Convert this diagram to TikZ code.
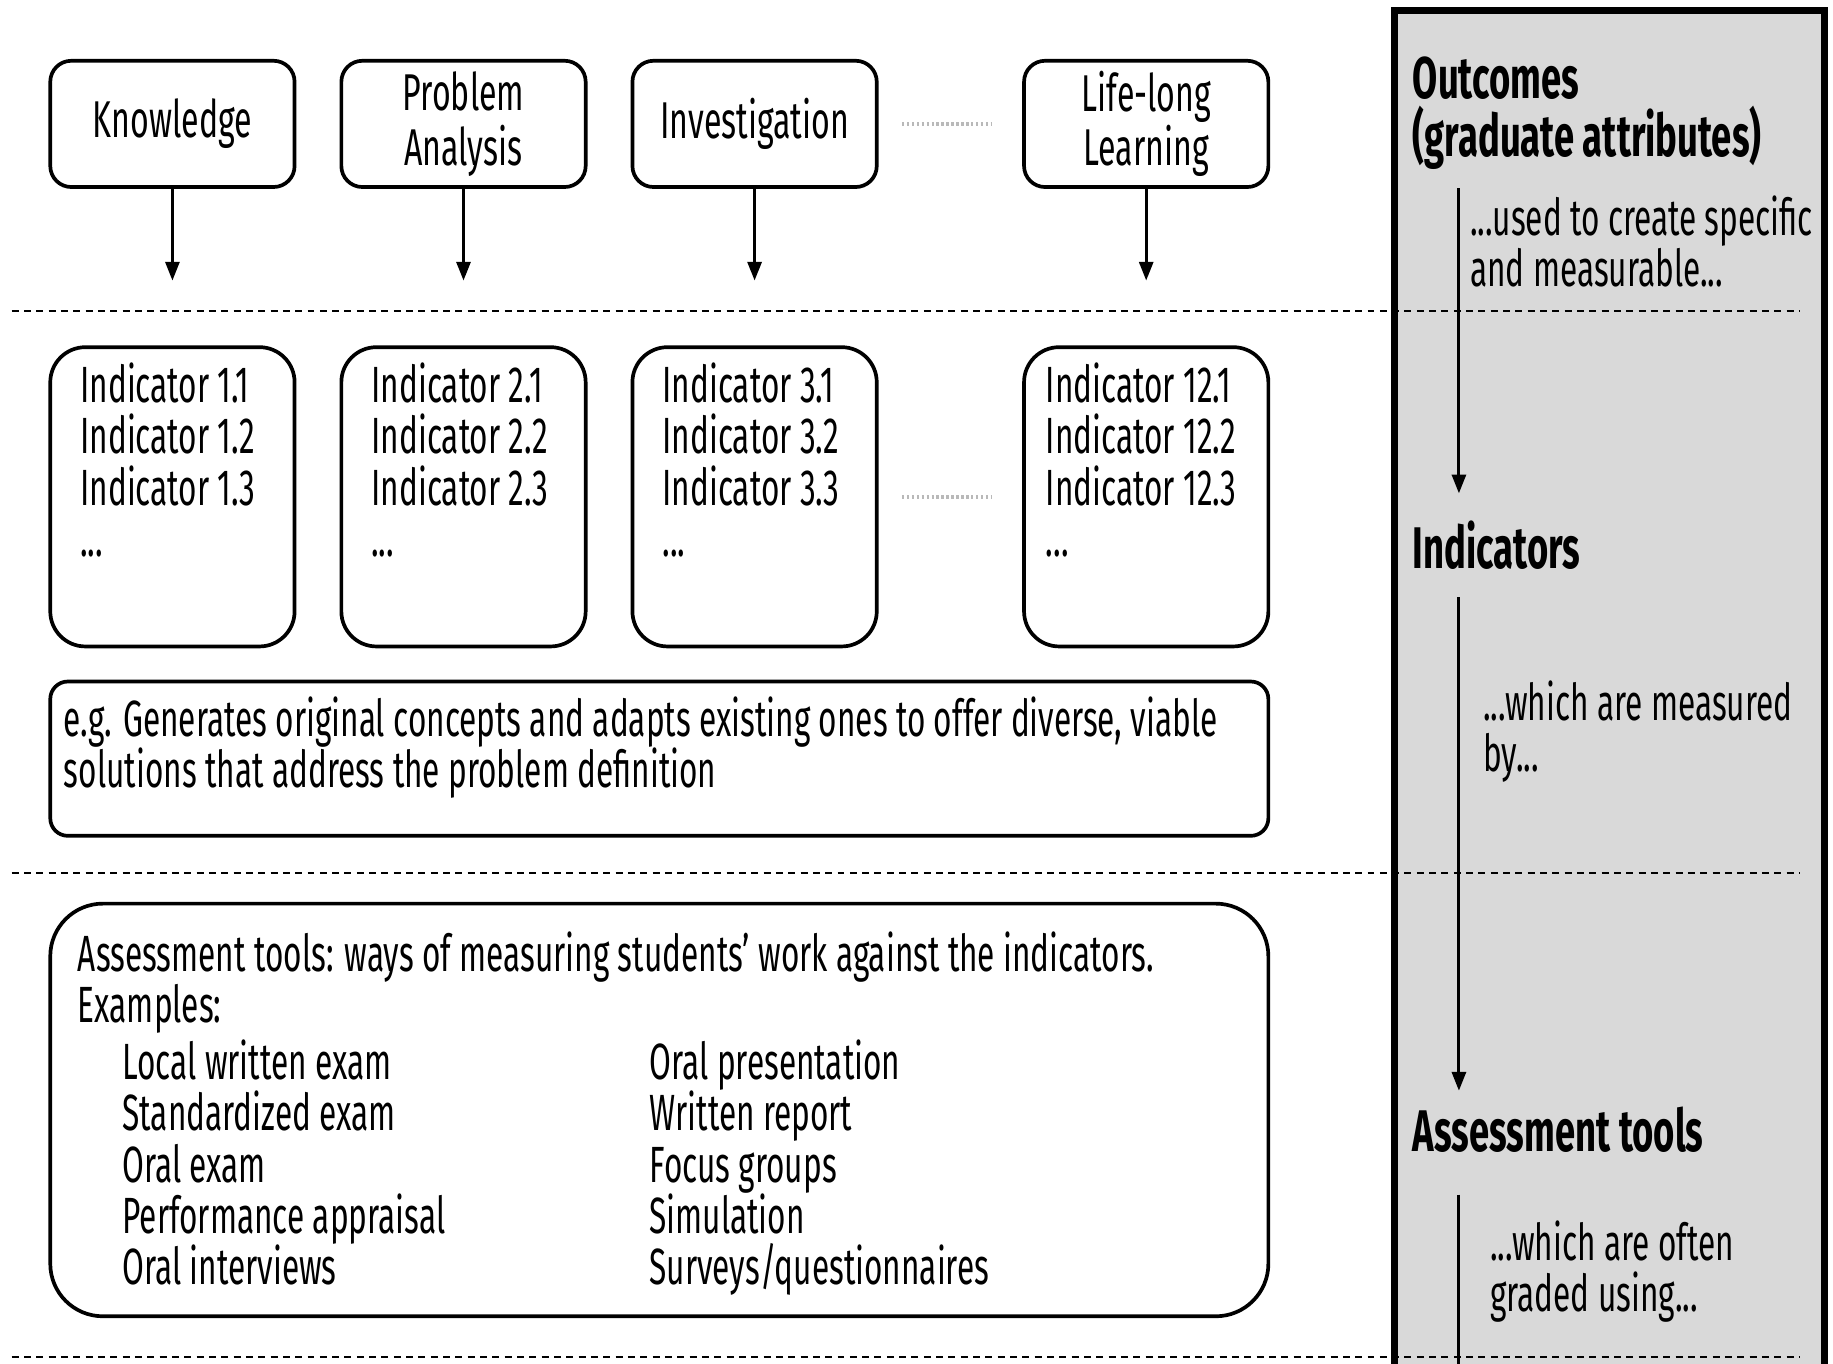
\documentclass[tikz,border=0pt]{standalone}
\usepackage{fontspec}
\setmainfont{Fira Sans}[FakeStretch=0.62]
\usetikzlibrary{arrows.meta}
\definecolor{panelgray}{HTML}{D9D9D9}
\newcommand\boxfont{\fontsize{12.4}{12.5}\selectfont}
\newcommand\headfont{\fontsize{14.3}{14.2}\selectfont\bfseries}
\tikzset{
  attrbox/.style={rectangle,rounded corners=1.8mm,draw,line width=0.9pt,
    minimum width=20.9mm,minimum height=10.8mm,align=center,inner sep=1pt,
    font=\fontsize{12.6}{13.3}\selectfont},
  indbox/.style={rectangle,rounded corners=3mm,draw,line width=0.9pt,
    minimum width=20.9mm,minimum height=25.6mm},
  widebox/.style={rectangle,draw,line width=0.9pt,minimum width=104.2mm},
  bodytext/.style={inner sep=0pt,align=left,font=\boxfont},
  headtext/.style={inner sep=0pt,align=left,font=\headfont},
  downarrow/.style={line width=0.7pt,-{Triangle[width=1.2mm,length=1.6mm]}},
  sepline/.style={line width=0.45pt,dash pattern=on 1.7pt off 1.3pt},
  gapdots/.style={line width=0.9pt,gray!55,dash pattern=on 0.6pt off 0.6pt}
}
\begin{document}
\begin{tikzpicture}[x=0.1mm,y=-0.1mm]
  \useasboundingbox (0,0) rectangle (1568,1166);

  % right side panel
  \fill[panelgray] (1193,9) rectangle (1561,1180);

  % separators
  \draw[sepline] (10,266) -- (1540,266);
  \draw[sepline] (10,747) -- (1540,747);
  \draw[sepline] (10,1161) -- (1540,1161);

  \draw[line width=1.7pt] (1193,1180) -- (1193,9) -- (1561,9) -- (1561,1180);

  % outcomes row
  \node[attrbox] (know) at (147.5,106) {Knowledge};
  \node[attrbox] (prob) at (396.5,106) {Problem\\Analysis};
  \node[attrbox] (inv) at (645.5,106) {Investigation};
  \node[attrbox] (life) at (980.5,106) {Life-long\\Learning};
  \draw[gapdots,shorten <=2mm,shorten >=2.6mm] (inv) -- (life);

  \coordinate (arrowend) at (0,240);
  \foreach \n in {know,prob,inv,life}
    \draw[downarrow] (\n.south) -- (\n.south |- arrowend);

  % indicators row
  \node[indbox] (ind1) at (147.5,425) {};
  \node[indbox] (ind2) at (396.5,425) {};
  \node[indbox] (ind3) at (645.5,425) {};
  \node[indbox] (ind12) at (980.5,425) {};
  \draw[gapdots,shorten <=2mm,shorten >=2.6mm] (ind3) -- (ind12);

  \node[bodytext,anchor=base west] (ind1t) at (68,476)
    {Indicator 1.1\\Indicator 1.2\\Indicator 1.3\\...};
  \node[bodytext,anchor=base west] (ind2t) at (317,476)
    {Indicator 2.1\\Indicator 2.2\\Indicator 2.3\\...};
  \node[bodytext,anchor=base west] (ind3t) at (566,476)
    {Indicator 3.1\\Indicator 3.2\\Indicator 3.3\\...};
  \node[bodytext,anchor=base west] (ind12t) at (894,476)
    {Indicator 12.1\\Indicator 12.2\\Indicator 12.3\\...};

  % example indicator
  \node[widebox,rounded corners=1.5mm,minimum height=13.2mm] (egbox) at (564,649) {};
  \node[bodytext,anchor=base west] (egtext) at (54,674)
    {e.g. Generates original concepts and adapts existing ones to offer diverse, viable\\
     solutions that address the problem definition};

  % assessment tools
  \node[widebox,rounded corners=4.5mm,minimum height=35.3mm] (toolbox) at (564,949.5) {};
  \node[bodytext,anchor=base west] (toolhead) at (66,875)
    {Assessment tools: ways of measuring students’ work against the indicators.\\Examples:};
  \node[bodytext,anchor=base west] (toolsA) at (104,1099)
    {Local written exam\\Standardized exam\\Oral exam\\Performance appraisal\\Oral interviews};
  \node[bodytext,anchor=base west] (toolsB) at (555,1099)
    {Oral presentation\\Written report\\Focus groups\\Simulation\\Surveys/questionnaires};

  % panel labels
  \node[headtext,anchor=base west] (outh) at (1208,134) {Outcomes\\(graduate attributes)};
  \node[bodytext,anchor=base west] (outn) at (1257,245)
    {...used to create specific\\and measurable...};
  \node[headtext,anchor=base west] (indh) at (1208,486) {Indicators};
  \node[bodytext,anchor=base west] (indn) at (1268,660)
    {...which are measured\\by...};
  \node[headtext,anchor=base west] (toolh) at (1208,985) {Assessment tools};
  \node[bodytext,anchor=base west] (tooln) at (1274,1122)
    {...which are often\\graded using...};

  \coordinate (flowA) at (1248,161);
  \coordinate (flowB) at (1248,422);
  \coordinate (flowC) at (1248,511);
  \coordinate (flowD) at (1248,933);
  \coordinate (flowE) at (1248,1022);
  \coordinate (flowF) at (1248,1180);
  \draw[downarrow] (flowA) -- (flowB);
  \draw[downarrow] (flowC) -- (flowD);
  \draw[line width=0.7pt] (flowE) -- (flowF);
\end{tikzpicture}
\end{document}
